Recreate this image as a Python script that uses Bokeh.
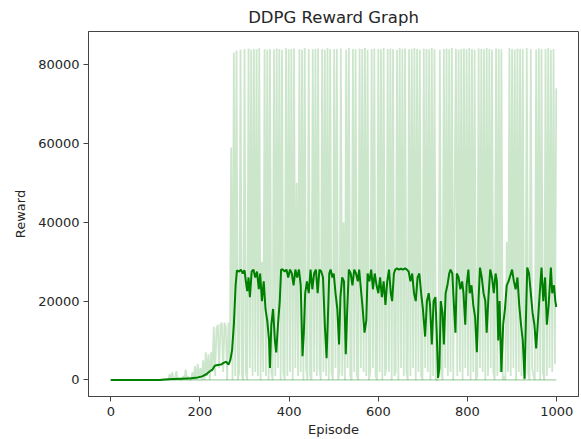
import numpy as np
from bokeh.plotting import figure
from bokeh.models import Range1d, FixedTicker, NumeralTickFormatter
from bokeh.embed import file_html
from bokeh.resources import INLINE

# ---------------- data (rewards in thousands) ----------------
# raw episode reward, one value every 3 episodes (episode 0, 3, 6, ... 999)
RAW_STEP = 3
raw_early_k = [0] * 44 + [
    1.5, 0, 2, 0, 0, 2.2, 0, 0.5, 0, 0,
    1, 0, 2.6, 0, 1, 0, 0, 2, 0, 3.5,
    0, 4, 0.5, 3, 0, 5, 0, 7, 1, 6.5,
    0, 7, 2, 13.5, 1, 13, 14, 3, 14, 14.5,
    2, 14.5, 13.5, 0, 14.5, 5,
]
raw_late_k = [
    59, 0, 83.1, 1, 83.6, 0, 2, 83.8, 1, 0,
    84, 2, 0, 84.1, 3, 83.8, 1, 84, 2, 83.9,
    1, 84.2, 0, 30, 2, 84, 1, 83.7, 0, 84,
    2, 0, 83.9, 1, 84.1, 3, 84, 0, 83.8, 2,
    0, 84.2, 1, 83.9, 2, 84, 0, 84.1, 3, 50,
    1, 84, 2, 83.8, 0, 84.2, 3, 0, 84, 1,
    0, 83.9, 2, 84, 1, 84.1, 3, 0, 84, 2,
    83.8, 1, 84.2, 0, 83.9, 2, 0, 84, 3, 84,
    0, 2, 84.1, 1, 40, 0, 83.8, 3, 84.2, 1,
    0, 84, 2, 83.9, 1, 0, 84.1, 3, 84, 2,
    84.2, 1, 83.8, 0, 2, 84, 3, 84.1, 1, 0,
    84, 2, 83.9, 0, 84.2, 1, 3, 84, 2, 84.1,
    0, 84, 1, 2, 83.8, 0, 84.2, 3, 84, 1,
    84.1, 2, 0, 83.9, 1, 84, 3, 84.2, 0, 84,
    2, 83.8, 1, 0, 84.1, 3, 84, 2, 83.9, 0,
    84.2, 1, 84, 0, 0, 1, 83.8, 2, 0, 84,
    3, 84.1, 1, 83.9, 2, 84.2, 0, 45, 84, 1,
    83.8, 2, 84, 0, 84.1, 3, 83.9, 1, 84.2, 0,
    84, 2, 83.8, 0, 1, 84.1, 3, 84, 2, 83.9,
    0, 84.2, 1, 84, 3, 83.8, 2, 0, 84.1, 1,
    84, 2, 83.9, 0, 1, 0, 35, 2, 84.2, 1,
    84, 3, 83.8, 0, 84.1, 2, 84, 1, 83.9, 0,
    1, 84.2, 2, 0, 84, 3, 1, 0, 83.8, 2,
    84.1, 0, 83.9, 2, 0, 84, 1, 84.2, 3, 83.8,
    2, 84, 4, 74,
]

# smoothed reward (episode, value in thousands)
smooth_episode = [
    0, 110, 120, 140, 160, 180, 195, 205, 215, 222, 228, 233, 240, 247, 254, 259, 264, 268, 272, 276,
    280, 283, 288, 292, 296, 300, 303, 306, 309, 312, 316, 320, 324, 328, 332, 335, 339, 343, 347, 351,
    355, 357, 360, 364, 368, 371, 375, 379, 382, 386, 390, 394, 398, 402, 406, 410, 414, 418, 422, 426,
    430, 433, 436,
    440, 444, 448, 452, 456, 460, 464, 468, 472, 476, 480, 484, 487, 490, 493, 497, 500, 504, 508, 512,
    515, 519, 523, 527, 530, 534, 538, 542, 546, 550, 554, 557, 561, 565, 569, 573, 576, 580, 584, 588,
    592, 596, 600, 604, 608, 612, 616, 620, 624, 628, 631, 635, 638, 642, 646, 650, 655, 660, 664, 668,
    672, 676, 680, 684, 688, 692, 696, 700, 705, 709, 713, 716, 720, 724, 728, 731, 734, 737, 740, 744,
    747, 751, 755, 759, 762, 766, 770, 773, 776, 780, 784, 788, 791, 795, 798, 802, 805, 809, 813, 817,
    821, 825, 828, 832, 836, 840, 843, 847, 851, 855, 859, 863, 866, 869, 872, 876, 880, 884, 888, 892,
    896, 900, 904, 908, 912, 916, 920, 924, 928, 931, 934, 938, 942, 946, 950, 954, 958, 962, 966, 970,
    974, 978, 982, 987, 990, 994, 997, 999,
]
smooth_reward_k = [
    0, 0, 0.1, 0.2, 0.3, 0.4, 0.6, 0.9, 1.5, 2.2, 2.6, 3.6, 3.8, 3.9, 4.4, 4.6, 3.9, 5.0, 7.5, 14,
    24, 27.8, 27.5, 28, 27, 27.8, 25, 22.5, 26, 21, 27.5, 28, 26, 27.5, 23, 27, 20, 25, 18, 15,
    10, 3, 14, 18, 10, 7, 14, 20, 28, 28, 27.5, 28, 26, 28, 27, 24, 28, 26, 28, 24,
    6, 12, 22,
    25, 22, 28, 23, 27, 28, 22, 28, 27.5, 26, 14, 5.5, 16, 27, 28, 26, 27, 22, 18, 9,
    21, 26, 25, 6.5, 17, 28, 27, 24, 28, 27, 25, 28, 23, 18, 12, 15, 27, 25, 28, 23,
    27, 24, 22, 26, 21, 25, 19, 25, 28, 22, 20, 27, 28, 28.3, 28, 28.2, 28, 28.3, 28, 27.5,
    25, 27, 22, 20, 26, 27, 22, 18, 11, 20, 22, 19, 9, 20, 21, 12, 0.5, 3, 20, 17,
    9, 22, 24, 27, 28, 27, 18, 12, 27, 26, 23, 25, 22, 14, 24, 28, 22, 24, 19, 16,
    7, 21, 28.5, 26, 22, 20, 12, 21, 28, 26, 22, 27, 25, 10, 20, 2, 14, 18, 24, 25,
    26.5, 28, 25, 23, 26, 19, 14, 10, 0.3, 15, 28.5, 27, 22, 17, 14, 8, 15, 22, 28.5, 20,
    26, 14, 19, 28.5, 22, 24, 20, 18.5,
]

floor_episode = [0, 999]
floor_reward_k = [0, 0]

x_ticks = [0, 200, 400, 600, 800, 1000]
y_ticks = [0, 20000, 40000, 60000, 80000]

# ---------------- build ----------------
raw_k = raw_early_k + raw_late_k
raw = np.array(raw_k) * 1000.0
raw_ep = np.arange(len(raw)) * RAW_STEP
smooth = np.array(smooth_reward_k) * 1000.0
floor = np.array(floor_reward_k) * 1000.0

xmin, xmax = 0, 999
ymin, ymax = min(raw.min(), 0), raw.max()
xpad = (xmax - xmin) * 0.05
ypad = (ymax - ymin) * 0.05

FONT = "DejaVu Sans"
TXT = "#262626"
AX = "#444444"

p = figure(
    width=580, height=439,
    x_range=Range1d(xmin - xpad, xmax + xpad),
    y_range=Range1d(ymin - ypad, ymax + ypad),
    output_backend="svg", toolbar_location=None,
    title="DDPG Reward Graph",
    min_border_left=88, min_border_right=2, min_border_top=30, min_border_bottom=0,
)
p.background_fill_color = "white"
p.border_fill_color = "white"
p.outline_line_color = AX
p.outline_line_width = 1
p.xgrid.visible = False
p.ygrid.visible = False

p.title.align = "center"
p.title.text_font = FONT
p.title.text_font_size = "16.5px"
p.title.text_font_style = "normal"
p.title.text_color = TXT
p.title.standoff = 10

for ax in (p.xaxis[0], p.yaxis[0]):
    ax.axis_line_color = AX
    ax.major_tick_line_color = AX
    ax.major_tick_out = 5
    ax.major_tick_in = 0
    ax.minor_tick_out = 0
    ax.minor_tick_in = 0
    ax.major_label_text_font = FONT
    ax.major_label_text_font_size = "13px"
    ax.major_label_text_color = TXT
    ax.axis_label_text_font = FONT
    ax.axis_label_text_font_size = "13px"
    ax.axis_label_text_font_style = "normal"
    ax.axis_label_text_color = TXT

p.xaxis.axis_label = "Episode"
p.yaxis.axis_label = "Reward"
p.xaxis.ticker = FixedTicker(ticks=x_ticks)
p.yaxis.ticker = FixedTicker(ticks=y_ticks)
p.yaxis.formatter = NumeralTickFormatter(format="0")
p.xaxis.major_label_standoff = 5
p.xaxis.axis_label_standoff = 3
p.yaxis.major_label_standoff = 4
p.yaxis.axis_label_standoff = 7

p.line(raw_ep, raw, line_color="green", line_alpha=0.2, line_width=1.8)
p.line(floor_episode, floor, line_color="green", line_alpha=0.25, line_width=1.6)
p.line(smooth_episode, smooth, line_color="green", line_width=2)

open("out.html", "w").write(file_html(p, INLINE))
